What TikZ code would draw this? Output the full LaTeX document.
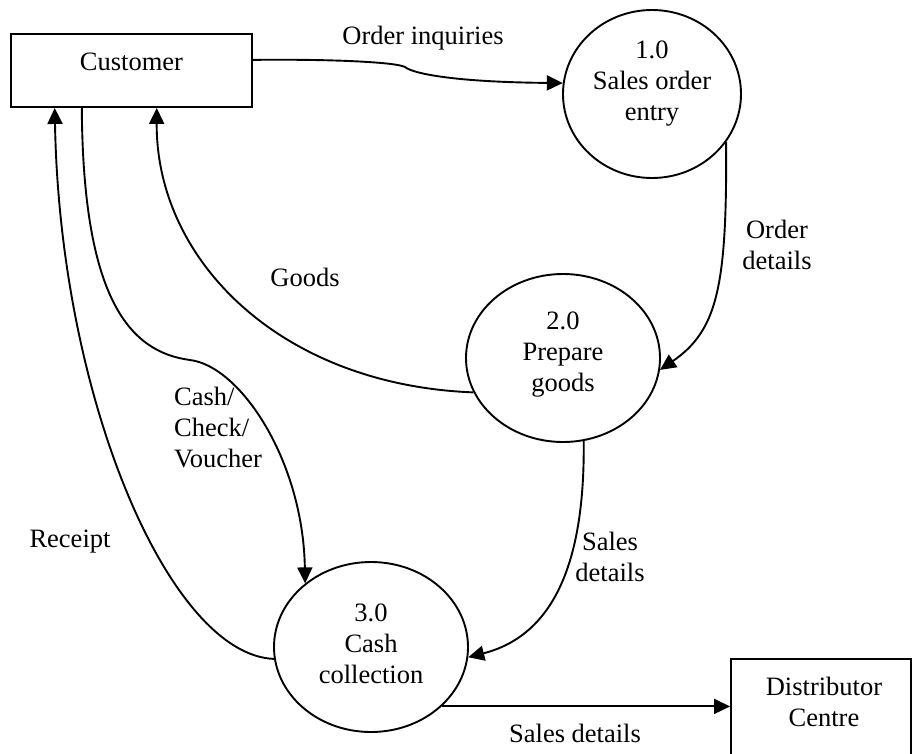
\documentclass[tikz,border=0pt]{standalone}
\usepackage{fontspec}
\setmainfont{Liberation Serif}
\usetikzlibrary{shapes.geometric,arrows.meta}

\tikzset{
  flow/.style={line width=1.9pt, -{Triangle[length=16pt,width=15pt]}},
  entity/.style={draw, line width=1.9pt, rectangle, inner sep=0pt},
  process/.style={draw, line width=1.9pt, ellipse, inner sep=0pt},
  txt/.style={font=\fontsize{26.5}{31}\selectfont, align=center, inner sep=0pt},
}

\begin{document}
\begin{tikzpicture}[x=1pt,y=-1pt]
  \useasboundingbox (0,0) rectangle (913,753);
  \clip (0,0) rectangle (913,753);

  % external entities
  \node[entity, minimum width=241pt, minimum height=73pt] (cust) at (131.5,70.5) {};
  \node[txt] (custtext) at (131.5,62) {Customer};
  \node[entity, minimum width=180pt, minimum height=160pt] (dc) at (821,739) {};
  \node[txt] (dctext) at (824,702) {Distributor\\Centre};

  % processes
  \node[process, minimum width=178pt, minimum height=168pt] (p1) at (652,94) {};
  \node[txt] (p1text) at (652,84) {1.0\\Sales order\\entry};
  \node[process, minimum width=194pt, minimum height=168pt] (p2) at (563,358) {};
  \node[txt] (p2text) at (563,355) {2.0\\Prepare\\goods};
  \node[process, minimum width=194pt, minimum height=170pt] (p3) at (371,647) {};
  \node[txt] (p3text) at (371,644) {3.0\\Cash\\collection};

  % data flows
  \draw[flow] (cust.5.4) .. controls (330,59) and (395,62) .. (405,67)
                         .. controls (412,73) and (450,82) .. (p1.173);
  \draw[flow] (p1.-33) .. controls (727,285) and (718,330) .. (p2.-7);
  \draw[flow] (p2.201) .. controls (280,385) and (156,260) .. (cust.-56);
  \draw[flow] (p3.187) .. controls (170,655) and (60,400) .. (cust.206.7);
  \draw[flow] (cust.217) .. controls (83,300) and (130,352) .. (190,360)
                         .. controls (240,366) and (303,460) .. (p3.136);
  \draw[flow] (p2.-76) .. controls (585,560) and (555,635) .. (p3.-6);
  \draw[flow] (p3.-40) -- (p3.-40 -| dc.west);

  % flow labels
  \node[txt] (l1) at (423,38) {Order inquiries};
  \node[txt] (l2) at (777,245) {Order\\details};
  \node[txt] (l3) at (305,277) {Goods};
  \node[txt, align=left, anchor=west] (l4) at (174,427) {Cash/\\Check/\\Voucher};
  \node[txt] (l5) at (70,542) {Receipt};
  \node[txt] (l6) at (610,557) {Sales\\details};
  \node[txt] (l7) at (575,733) {Sales details};
\end{tikzpicture}
\end{document}
